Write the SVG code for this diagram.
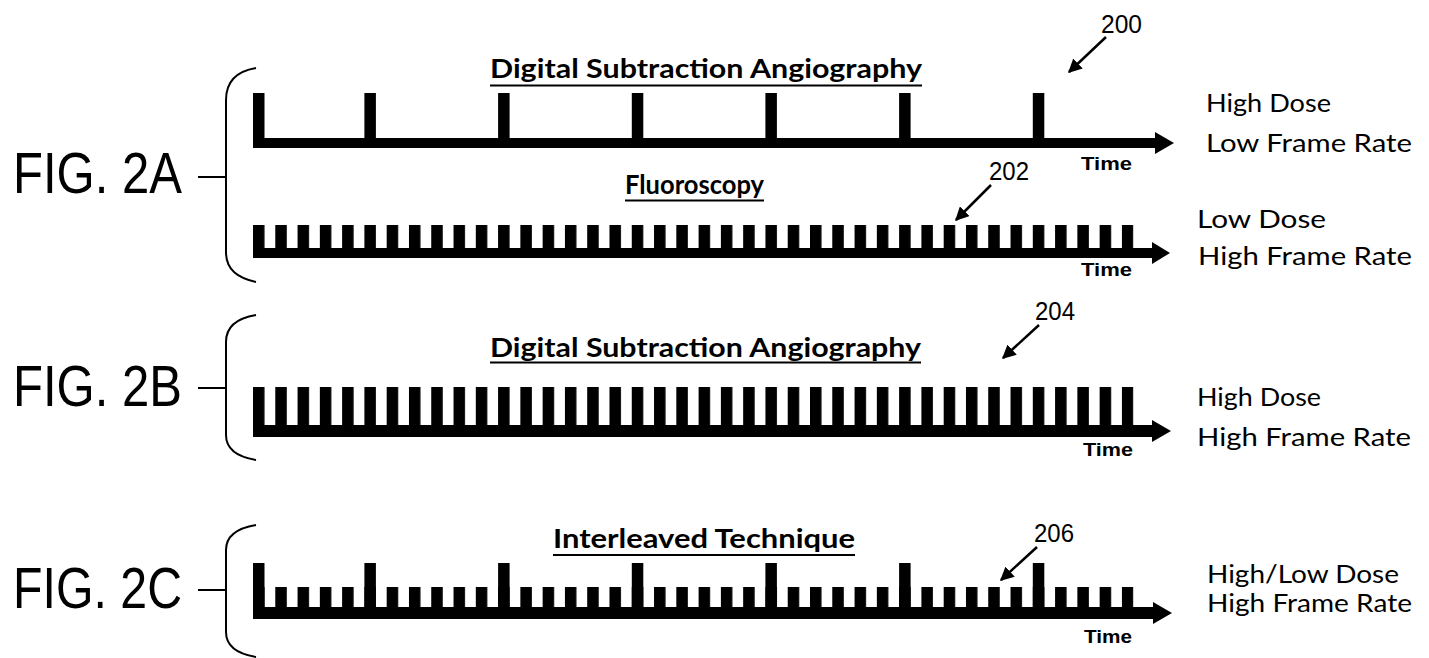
<svg xmlns="http://www.w3.org/2000/svg" width="1429" height="658" viewBox="0 0 1429 658">
  <style>
    .fig { font-family: "Liberation Sans", Arial, sans-serif; font-size: 57px; fill: #000; }
    .title { font-family: Lato, "Open Sans", sans-serif; font-weight: bold; font-size: 26px; fill: #000; }
    .side { font-family: Lato, "Open Sans", sans-serif; font-size: 25px; fill: #000; }
    .ref { font-family: "Liberation Sans", Arial, sans-serif; font-size: 25px; fill: #000; }
    .time { font-family: "Liberation Sans", Arial, sans-serif; font-weight: bold; font-size: 19px; fill: #000; }
    .brace { fill: none; stroke: #000; stroke-width: 2; }
    .dash { stroke: #000; stroke-width: 2; }
    .uline { stroke: #000; stroke-width: 2; }
    .lead { stroke: #000; stroke-width: 2.5; fill: none; marker-end: url(#head); }
    .ink { fill: #000; }
  </style>
  <defs>
    <!-- evenly spaced frame pulses, pitch 22.28 px -->
    <pattern id="comb" patternUnits="userSpaceOnUse" x="253" y="0" width="22.28" height="658">
      <rect x="0" y="0" width="11.5" height="658" fill="#000"/>
    </pattern>
    <marker id="head" viewBox="0 0 10 10" refX="9" refY="5" markerWidth="5.5" markerHeight="5.5" orient="auto" markerUnits="strokeWidth">
      <path d="M0,0 L10,5 L0,10 z" fill="#000"/>
    </marker>
  </defs>

  <rect x="0" y="0" width="1429" height="658" fill="#fff"/>

  <!-- FIG. 2A: DSA (top) and fluoroscopy (bottom) -->
  <g id="fig2a">
    <text class="fig" x="13" y="193" textLength="169" lengthAdjust="spacingAndGlyphs">FIG. 2A</text>
    <line class="dash" x1="198" y1="177" x2="226" y2="177"/>
    <path class="brace" d="M256,68 C238,71 226,80 226,100 L226,252 C226,270 238,278 256,282"/>
  </g>

  <g id="dsa-2a">
    <text class="title" x="490" y="78" textLength="432" lengthAdjust="spacingAndGlyphs">Digital Subtraction Angiography</text>
    <line class="uline" x1="490" y1="85.5" x2="922" y2="85.5"/>
    <g class="ink">
      <rect x="253" y="93" width="11.5" height="46"/>
      <rect x="364.4" y="93" width="11.5" height="46"/>
      <rect x="498.1" y="93" width="11.5" height="46"/>
      <rect x="631.8" y="93" width="11.5" height="46"/>
      <rect x="765.4" y="93" width="11.5" height="46"/>
      <rect x="899.1" y="93" width="11.5" height="46"/>
      <rect x="1032.8" y="93" width="11.5" height="46"/>
    </g>
    <rect class="ink" x="253" y="138" width="904" height="10"/>
    <polygon class="ink" points="1155,132 1174,143 1155,154"/>
    <text class="time" x="1081" y="170" textLength="51" lengthAdjust="spacingAndGlyphs">Time</text>
    <text class="side" x="1206" y="112" textLength="125" lengthAdjust="spacingAndGlyphs">High Dose</text>
    <text class="side" x="1206" y="152" textLength="206" lengthAdjust="spacingAndGlyphs">Low Frame Rate</text>
  </g>

  <g id="fluoro-2a">
    <text class="title" x="625" y="194" textLength="139" lengthAdjust="spacingAndGlyphs">Fluoroscopy</text>
    <line class="uline" x1="625" y1="200.5" x2="764" y2="200.5"/>
    <rect x="253" y="225" width="880.4" height="24" fill="url(#comb)"/>
    <rect class="ink" x="253" y="248" width="901" height="10"/>
    <polygon class="ink" points="1152,242 1170,253 1152,264"/>
    <text class="time" x="1081" y="276" textLength="51" lengthAdjust="spacingAndGlyphs">Time</text>
    <text class="side" x="1197" y="228" textLength="129" lengthAdjust="spacingAndGlyphs">Low Dose</text>
    <text class="side" x="1198" y="265" textLength="214" lengthAdjust="spacingAndGlyphs">High Frame Rate</text>
  </g>

  <!-- FIG. 2B: DSA at high frame rate -->
  <g id="fig2b">
    <text class="fig" x="13" y="406" textLength="169" lengthAdjust="spacingAndGlyphs">FIG. 2B</text>
    <line class="dash" x1="198" y1="388" x2="226" y2="388"/>
    <path class="brace" d="M256,315 C238,318 226,326 226,342 L226,435 C226,450 238,457 256,460"/>
  </g>

  <g id="dsa-2b">
    <text class="title" x="490" y="357" textLength="431" lengthAdjust="spacingAndGlyphs">Digital Subtraction Angiography</text>
    <line class="uline" x1="490" y1="362.5" x2="921" y2="362.5"/>
    <rect x="253" y="387" width="880.4" height="40" fill="url(#comb)"/>
    <rect class="ink" x="253" y="425" width="901" height="12"/>
    <polygon class="ink" points="1152,420 1171,431 1152,442"/>
    <text class="time" x="1083" y="456" textLength="50" lengthAdjust="spacingAndGlyphs">Time</text>
    <text class="side" x="1197" y="406" textLength="124" lengthAdjust="spacingAndGlyphs">High Dose</text>
    <text class="side" x="1197" y="446" textLength="214" lengthAdjust="spacingAndGlyphs">High Frame Rate</text>
  </g>

  <!-- FIG. 2C: interleaved high/low dose pulses -->
  <g id="fig2c">
    <text class="fig" x="13" y="608" textLength="169" lengthAdjust="spacingAndGlyphs">FIG. 2C</text>
    <line class="dash" x1="198" y1="590" x2="226" y2="590"/>
    <path class="brace" d="M256,525 C238,528 226,536 226,550 L226,632 C226,646 238,654 256,657"/>
  </g>

  <g id="interleaved-2c">
    <text class="title" x="553" y="548" textLength="302" lengthAdjust="spacingAndGlyphs">Interleaved Technique</text>
    <line class="uline" x1="553" y1="555" x2="855" y2="555"/>
    <rect x="253" y="587" width="880.4" height="22" fill="url(#comb)"/>
    <g class="ink">
      <rect x="253" y="563" width="11.5" height="46"/>
      <rect x="364.4" y="563" width="11.5" height="46"/>
      <rect x="498.1" y="563" width="11.5" height="46"/>
      <rect x="631.8" y="563" width="11.5" height="46"/>
      <rect x="765.4" y="563" width="11.5" height="46"/>
      <rect x="899.1" y="563" width="11.5" height="46"/>
      <rect x="1032.8" y="563" width="11.5" height="46"/>
    </g>
    <rect class="ink" x="253" y="607" width="902" height="12"/>
    <polygon class="ink" points="1153,602 1172,613 1153,624"/>
    <text class="time" x="1084" y="643" textLength="48" lengthAdjust="spacingAndGlyphs">Time</text>
    <text class="side" x="1207" y="583" textLength="192" lengthAdjust="spacingAndGlyphs">High/Low Dose</text>
    <text class="side" x="1207" y="612" textLength="205" lengthAdjust="spacingAndGlyphs">High Frame Rate</text>
  </g>

  <!-- reference numerals with leader arrows -->
  <g id="connectors">
    <text class="ref" x="1101" y="33" textLength="41" lengthAdjust="spacingAndGlyphs">200</text>
    <line class="lead" x1="1106" y1="37" x2="1069" y2="72"/>
    <text class="ref" x="989" y="180" textLength="40" lengthAdjust="spacingAndGlyphs">202</text>
    <line class="lead" x1="991" y1="185" x2="956" y2="220"/>
    <text class="ref" x="1035" y="320" textLength="40" lengthAdjust="spacingAndGlyphs">204</text>
    <line class="lead" x1="1039" y1="325" x2="1003" y2="358"/>
    <text class="ref" x="1034" y="542" textLength="40" lengthAdjust="spacingAndGlyphs">206</text>
    <line class="lead" x1="1037" y1="547" x2="1001" y2="580"/>
  </g>
</svg>
